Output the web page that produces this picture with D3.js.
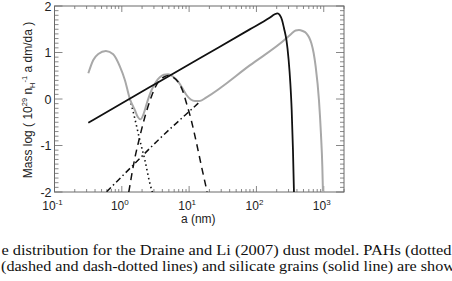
<!DOCTYPE html>
<html><head><meta charset="utf-8">
<script src="https://cdn.jsdelivr.net/npm/d3@7"></script>
<style>html,body{margin:0;padding:0;background:#fff;overflow:hidden}</style>
</head><body>
<svg id="c" width="452" height="281"></svg>
<script>
// --- data (a in nm, value = Mass log) ---
const silicateA = [0.318, 2.61, 14.4, 79.6, 157, 187, 205, 222, 240, 257, 279, 301, 319, 334, 349, 361];
const silicateV = [-0.51, 0.256, 0.877, 1.497, 1.746, 1.822, 1.843, 1.806, 1.699, 1.520, 1.269, 0.839, 0.338, -0.237, -1.097, -2.0];

const totalA = [0.318, 0.377, 0.447, 0.581, 0.745, 0.938, 1.11, 1.32, 1.56, 1.73, 1.90, 2.13, 2.36, 2.77, 3.21, 3.67, 4.21, 4.88, 5.73, 6.87, 7.93, 9.14, 10.6, 12.2, 14.4, 18.1, 79.6, 279, 334, 383, 429, 486, 552, 607, 655, 708, 759, 849, 908, 953, 973];
const totalV = [0.553, 0.839, 0.968, 1.032, 0.961, 0.695, 0.409, 0.0, -0.237, -0.387, -0.437, -0.301, -0.086, 0.194, 0.366, 0.467, 0.520, 0.531, 0.484, 0.372, 0.237, 0.086, -0.011, -0.043, -0.043, 0.037, 0.723, 1.305, 1.409, 1.473, 1.484, 1.462, 1.413, 1.323, 1.199, 0.989, 0.697, -0.022, -0.738, -1.456, -2.0];

const pahA = [1.32, 1.56, 1.85, 2.20, 2.61, 2.89];
const pahV = [0.0, -0.42, -0.882, -1.312, -1.813, -2.04];

const dashedA = [1.27, 1.56, 1.85, 2.20, 2.61, 3.10, 3.67, 4.21, 4.88, 5.73, 6.87, 7.93, 9.14, 10.9, 12.9, 15.3, 18.5];
const dashedV = [-2.0, -1.275, -0.811, -0.387, -0.043, 0.237, 0.409, 0.473, 0.505, 0.473, 0.366, 0.194, -0.092, -0.488, -0.953, -1.456, -1.994];

const dashdotA = [0.595, 1.48, 3.28, 10.2, 14.4];
const dashdotV = [-1.994, -1.42, -0.918, -0.258, -0.06];

const xTickVals = [0.1, 1, 10, 100, 1000];
const xTickExp = ["-1", "0", "1", "2", "3"];
const yTickVals = [-2, -1, 0, 1, 2];
const yTickLabels = ["-2", "-1", "0", "1", "2"];

const captionLines = [
  "e distribution for the Draine and Li (2007) dust model. PAHs (dotted",
  "(dashed and dash-dotted lines) and silicate grains (solid line) are shown"
];

// --- layout ---
const L = 54.5, R = 344, T = 6, B = 192;
const svg = d3.select("#c");
const x = d3.scaleLog().domain([0.1, 2000]).range([L, R]);
const y = d3.scaleLinear().domain([-2, 2]).range([B, T]);

const clip = svg.append("defs").append("clipPath").attr("id", "pc");
clip.append("rect").attr("x", L).attr("y", T).attr("width", R - L).attr("height", B - T);

const axisCol = "#6a6a6a";
const g = svg.append("g");

// ticks
const yMinor = d3.range(-20, 21).map(d => d / 10);
yMinor.forEach(v => {
  const major = Math.abs(v - Math.round(v)) < 1e-9;
  const len = major ? 8 : 4;
  g.append("line").attr("x1", L).attr("x2", L + len).attr("y1", y(v)).attr("y2", y(v)).attr("stroke", axisCol).attr("stroke-width", 0.8);
  g.append("line").attr("x1", R).attr("x2", R - len).attr("y1", y(v)).attr("y2", y(v)).attr("stroke", axisCol).attr("stroke-width", 0.8);
});
const xMinor = [];
for (let e = -1; e <= 3; e++) for (let m = 1; m <= 9; m++) { const v = m * Math.pow(10, e); if (v <= 2000) xMinor.push([v, m === 1]); }
xMinor.forEach(([v, major]) => {
  const len = major ? 6 : 3;
  g.append("line").attr("x1", x(v)).attr("x2", x(v)).attr("y1", B).attr("y2", B - len).attr("stroke", axisCol).attr("stroke-width", 0.8);
  g.append("line").attr("x1", x(v)).attr("x2", x(v)).attr("y1", T).attr("y2", T + len).attr("stroke", axisCol).attr("stroke-width", 0.8);
});
g.append("rect").attr("x", L).attr("y", T).attr("width", R - L).attr("height", B - T).attr("fill", "none").attr("stroke", axisCol).attr("stroke-width", 1);

// tick labels
const lab = svg.append("g").attr("font-family", "Liberation Sans, Arial, sans-serif").attr("fill", "#222");
yTickVals.forEach((v, i) => {
  lab.append("text").attr("x", L - 3).attr("y", y(v) + 4.5).attr("text-anchor", "end").attr("font-size", 12.5).text(yTickLabels[i]);
});
xTickVals.forEach((v, i) => {
  const t = lab.append("text").attr("x", x(v) - 2).attr("y", 209.5).attr("text-anchor", "middle").attr("font-size", 12);
  t.append("tspan").text("10");
  t.append("tspan").attr("font-size", 8).attr("dy", -5).text(xTickExp[i]);
});
lab.append("text").attr("x", (L + R) / 2 - 1).attr("y", 223).attr("text-anchor", "middle").attr("font-size", 12).text("a (nm)");

const yl = lab.append("text").attr("transform", `translate(32,${(T + B) / 2 + 1}) rotate(-90)`).attr("text-anchor", "middle").attr("font-size", 12);
yl.append("tspan").text("Mass log ( 10");
yl.append("tspan").attr("font-size", 7.5).attr("dy", -5).text("29");
yl.append("tspan").attr("dy", 5).text(" n");
yl.append("tspan").attr("font-size", 7.5).attr("dy", 3).text("H");
yl.append("tspan").attr("font-size", 7.5).attr("dy", -8).text("-1");
yl.append("tspan").attr("dy", 5).text(" a dm/da )");

// curves
const line = d3.line().x(d => x(d[0])).y(d => y(d[1])).curve(d3.curveMonotoneX);
const zip = (a, b) => a.map((v, i) => [v, b[i]]);
const plot = svg.append("g").attr("clip-path", "url(#pc)").attr("fill", "none");

plot.append("path").datum(zip(dashdotA, dashdotV)).attr("d", line).attr("stroke", "#111").attr("stroke-width", 1.5).attr("stroke-dasharray", "6,3,1.5,3");
plot.append("path").datum(zip(pahA, pahV)).attr("d", line).attr("stroke", "#111").attr("stroke-width", 1.6).attr("stroke-dasharray", "1.5,3");
plot.append("path").datum(zip(totalA, totalV)).attr("d", line).attr("stroke", "#a8a8a8").attr("stroke-width", 2);
plot.append("path").datum(zip(dashedA, dashedV)).attr("d", line).attr("stroke", "#111").attr("stroke-width", 1.5).attr("stroke-dasharray", "7,5");
plot.append("path").datum(zip(silicateA, silicateV)).attr("d", line).attr("stroke", "#111").attr("stroke-width", 1.8);

// caption
const cap = svg.append("g").attr("font-family", "Liberation Serif, Times New Roman, serif").attr("fill", "#111").attr("font-size", 15);
cap.append("text").attr("x", 1.5).attr("y", 255).attr("textLength", 450).attr("lengthAdjust", "spacingAndGlyphs").text(captionLines[0]);
cap.append("text").attr("x", 1).attr("y", 270.5).attr("textLength", 462).attr("lengthAdjust", "spacingAndGlyphs").text(captionLines[1]);
</script>
</body></html>
